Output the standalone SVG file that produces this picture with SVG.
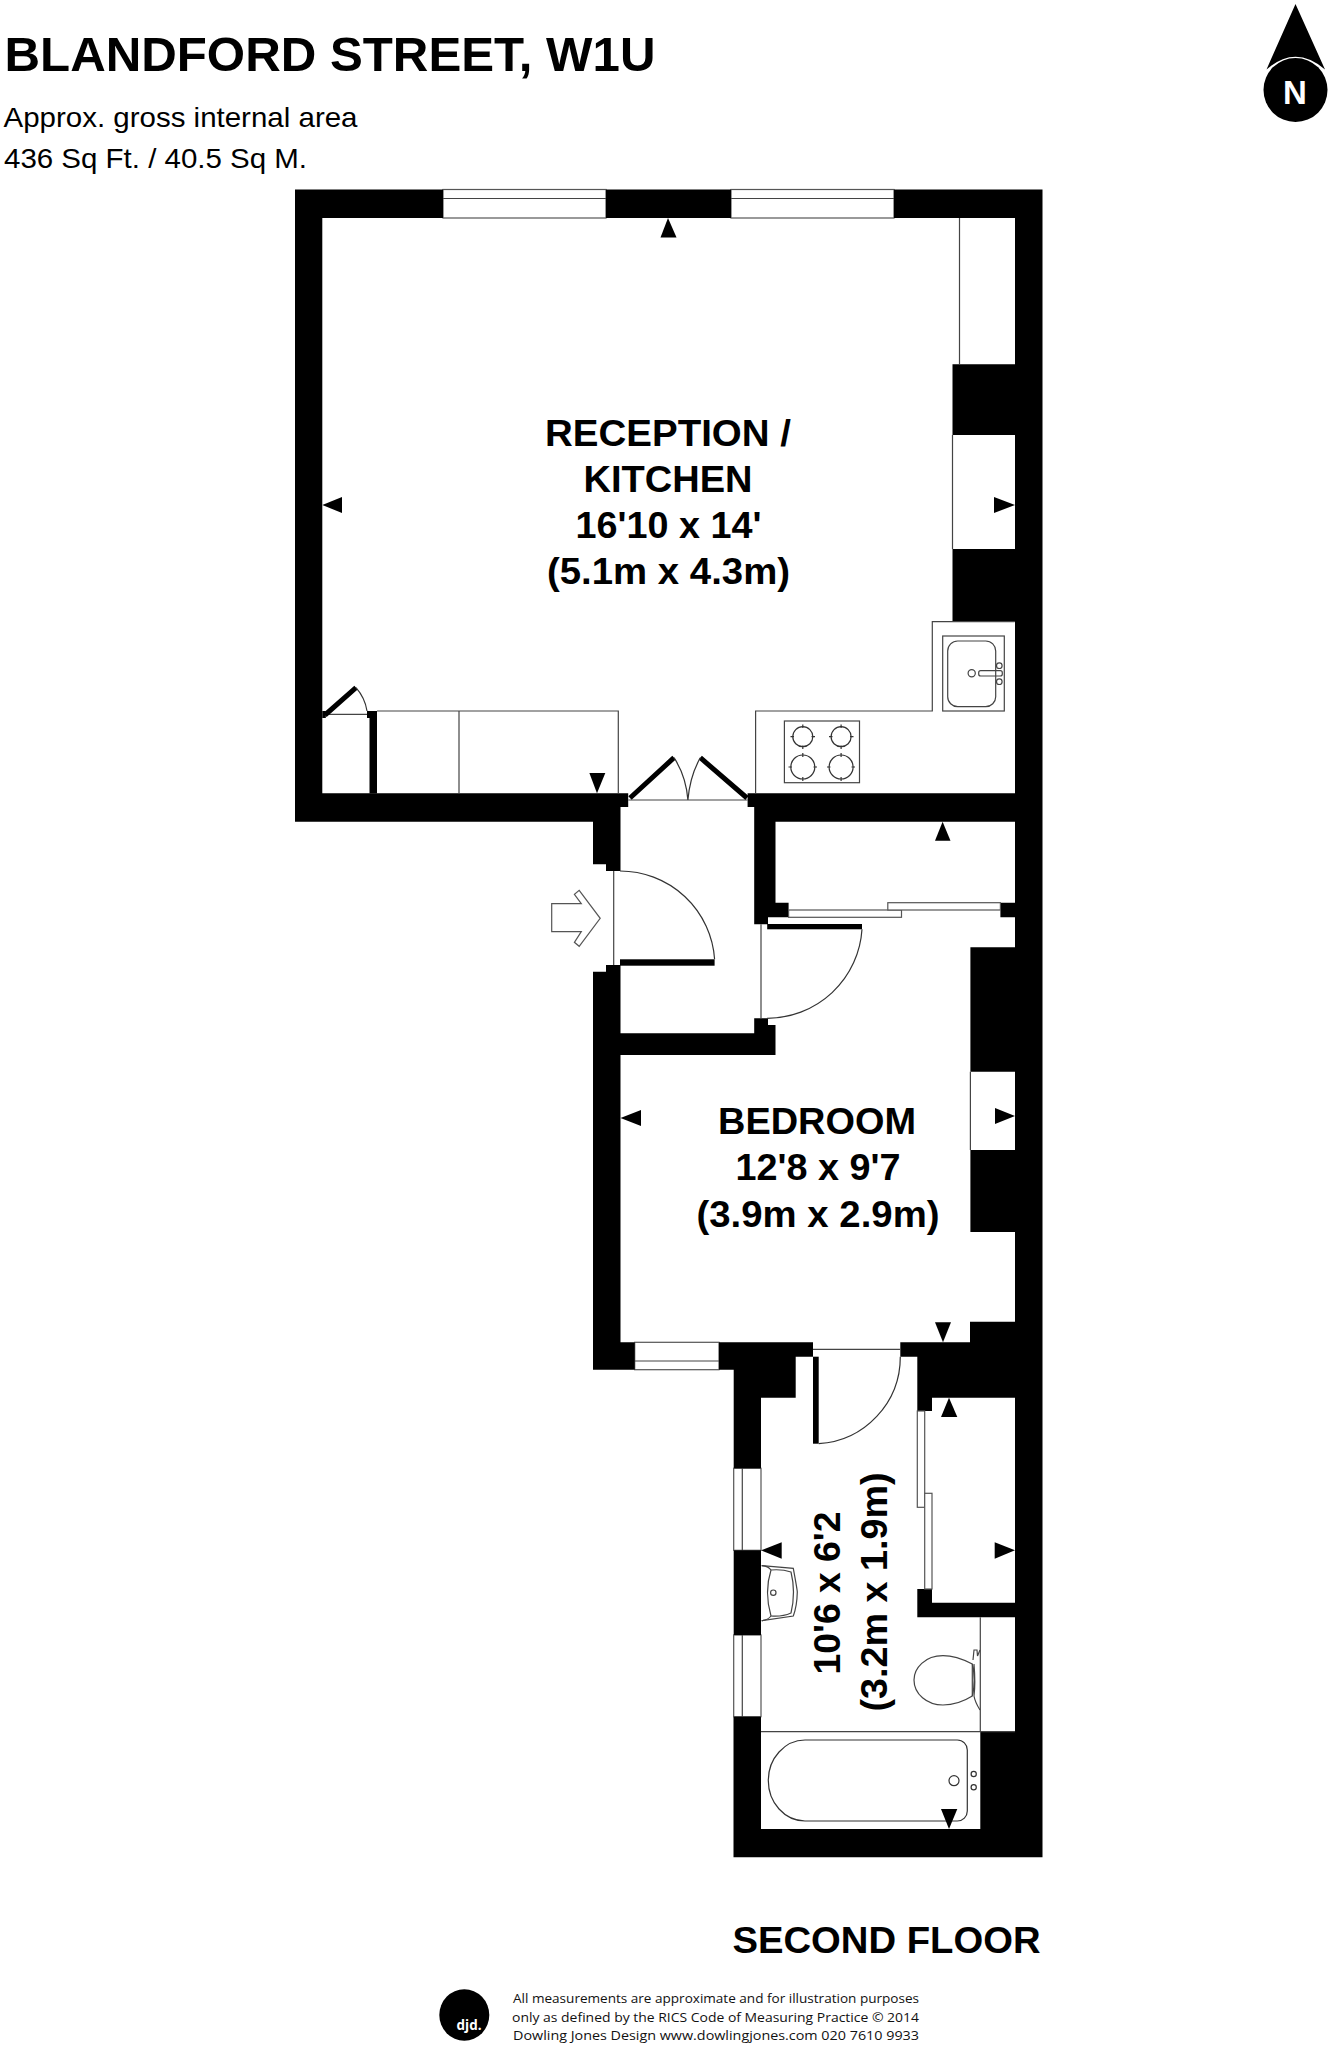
<svg xmlns="http://www.w3.org/2000/svg" width="1334" height="2048" viewBox="0 0 1334 2048">
<style>
.w{fill:#000;stroke:none}
.l{fill:#fff;stroke:#555;stroke-width:1.2}
.n{fill:none;stroke:#444;stroke-width:1.2}
.f{fill:none;stroke:#333;stroke-width:1.2}
.t{font-family:"Liberation Sans",Arial,sans-serif;fill:#000}
.b{font-weight:bold}
.r{font-size:37px;font-weight:bold;text-anchor:middle}
.s{font-family:"Open Sans","Noto Sans",sans-serif;font-size:13.5px;fill:#111}
</style>
<rect width="1334" height="2048" fill="#fff"/>
<g id="header">
<text class="t b" x="4.5" y="70.5" font-size="48" textLength="651" lengthAdjust="spacingAndGlyphs">BLANDFORD STREET, W1U</text>
<text class="t" x="3.5" y="126.5" font-size="28" textLength="354" lengthAdjust="spacingAndGlyphs">Approx. gross internal area</text>
<text class="t" x="4" y="168" font-size="28" textLength="303" lengthAdjust="spacingAndGlyphs">436 Sq Ft. / 40.5 Sq M.</text>
</g>
<g id="north">
<path class="w" d="M1295.5 4L1266.5 69.5Q1295.5 44 1325 69.5Z"/>
<circle class="w" cx="1295.5" cy="90" r="32"/>
<text x="1295" y="103.5" font-family="Liberation Sans,sans-serif" font-weight="bold" font-size="33" fill="#fff" text-anchor="middle">N</text>
</g>
<g id="windows">
<rect class="l" x="443" y="189.5" width="163" height="28.5"/><path class="n" d="M443 198.5H606"/>
<rect class="l" x="731" y="189.5" width="163" height="28.5"/><path class="n" d="M731 198.5H894"/>
<rect class="l" x="634.7" y="1342.3" width="84.3" height="27.4"/><path class="n" d="M634.7 1361H719"/>
<rect class="l" x="733.7" y="1468.3" width="27.3" height="82"/><path class="n" d="M742.3 1468.3V1550.3"/>
<rect class="l" x="733.7" y="1635" width="27.3" height="81.7"/><path class="n" d="M742.3 1635V1716.7"/>
</g>
<g id="walls">
<path class="w" d="M295 189.5H443V218H322.3V793.3H628.2V807H620.5V871H606V864.3H593V821.7H295Z"/>
<rect class="w" x="606" y="189.5" width="125" height="28.5"/>
<path class="w" d="M894 189.5H1042.5V1857.3H733.5V1716.7H761V1829H980.3V1731.7H1015V1321.7H970V1342.3H900.3V1356.7H917.3V1411H932V1397.7H1015V1602.7H932V1589H917.3V1617.3H1015V1232H970.4V1150H1015V1071.7H970.4V947.3H1015V917.3H1000.4V902.7H1015V821.7H775.5V902.7H788.6V917.3H768V924.3H754.2V807H747.6V793.3H1015V621.7H952.5V549H1015V435H952.5V364.3H1015V218H894Z"/>
<path class="w" d="M606 965H620.5V1033.3H754.2V1018.3H768V1025H775.5V1055H620.5V1342.3H634.7V1369.7H593V971.7H606Z"/>
<path class="w" d="M719 1342.3H813V1356.7H795.7V1397.7H761V1468.3H733.7V1369.7H719Z"/>
<rect class="w" x="733.7" y="1550.3" width="27.3" height="84.7"/>
<rect class="w" x="369.5" y="711" width="7.5" height="82.5"/>
<rect class="w" x="367" y="711" width="10" height="7"/>
<rect class="w" x="322.3" y="711" width="3.5" height="7"/>
</g>
<g id="fittings">
<path class="n" d="M959.5 218V364.3M952.5 435V549"/>
<path class="n" d="M970.4 1071.7V1150"/>
<path class="n" d="M377 711H618.3V793.3M459 711V793.3"/>
<path class="n" d="M326 714.3H367"/>
<path class="n" d="M628.2 800H747.6M613.7 871V965M761 924.3V1018.3M813 1349.3H900.3"/>
<path class="n" d="M755.6 793.3V711H932.3V621.7H1014.7"/>
<path class="n" d="M980.3 1617.3V1731.7M761 1731.7H1015"/>
</g>
<g id="doors">
<path class="f" d="M620 871A94.6 94.6 0 0 1 714.6 959.3"/>
<rect class="w" x="620" y="959.3" width="94.6" height="6.4"/>
<rect class="w" x="767.2" y="924" width="94.8" height="5.3"/>
<path class="f" d="M862 929.3A95 95 0 0 1 767 1018.3"/>
<rect class="w" x="813" y="1356.7" width="5.7" height="87"/>
<path class="f" d="M900.3 1356.7A87 87 0 0 1 818.7 1443.7"/>
<path d="M325 715L356 687.7M630 798L674 757.7M747 798L700.3 757.7" stroke="#000" stroke-width="5" fill="none"/>
<path class="f" d="M356 687.7Q365 698 367 711M674 757.7Q686 776 687.9 800M700.3 757.7Q690 776 687.9 800"/>
<rect class="l" x="788.6" y="910" width="112.9" height="7.3"/>
<rect class="l" x="887.8" y="902.7" width="112.6" height="7.3"/>
<rect class="l" x="917.3" y="1411" width="7.4" height="96.3"/>
<rect class="l" x="924.7" y="1493.3" width="7.3" height="95.7"/>
</g>
<g id="entry-arrow">
<path class="l" d="M551.7 903.7H581.3L574.4 894.3L579.2 890.3L600.2 918.3L579.2 946.3L574.4 942.3L581.3 931.7H551.7Z"/>
</g>
<g id="hob">
<rect class="n" x="784.4" y="721" width="75.1" height="61.7"/>
<circle class="f" cx="802.8" cy="736.7" r="10"/><circle class="f" cx="841.1" cy="736.7" r="10"/>
<circle class="f" cx="802.8" cy="767" r="12"/><circle class="f" cx="841.1" cy="767" r="12"/>
<path class="f" d="M802.8 724.5V728M802.8 745.5V749M841.1 724.5V728M841.1 745.5V749M790.5 736.7H794M811.5 736.7H815M829 736.7H832.5M850 736.7H853.5M802.8 753V757M802.8 777V781M841.1 753V757M841.1 777V781M788.5 767H792M813.5 767H817M827 767H830.5M851.5 767H855"/>
</g>
<g id="kitchen-sink">
<rect class="n" x="942.7" y="636" width="61.6" height="75"/>
<rect class="n" x="947.7" y="641" width="48" height="65.7" rx="10"/>
<circle class="n" cx="971.7" cy="673.3" r="3.6"/>
<rect class="n" x="978.7" y="670.7" width="23.6" height="5.3" rx="2"/>
<circle class="n" cx="999.3" cy="665.7" r="2.8"/><circle class="n" cx="999.3" cy="681.7" r="2.8"/>
</g>
<g id="basin">
<path class="n" d="M761.7 1565.7L793.3 1568.3Q797.3 1590 797.3 1592Q797 1606 793.3 1616L761.7 1620.7"/>
<path class="n" d="M771 1570Q764 1592 771 1616Q782 1617 791 1613Q796 1592 791 1572Q782 1569 771 1570Z"/>
<path class="n" d="M761.7 1565.7Q768 1566 771 1570M761.7 1620.7Q768 1620 771 1616"/>
<circle class="n" cx="773.3" cy="1592.7" r="2.7"/>
</g>
<g id="wc">
<path class="n" d="M972.3 1664Q956 1655.7 943 1655.7C925 1655.7 914 1668 914 1680C914 1694 927 1705 943 1705Q958 1705 972.3 1696Z"/>
<path class="n" d="M972.3 1664Q976 1680 972.3 1696M974 1664C975 1676 975 1688 974 1696Q975 1702 980 1710M973 1660L974 1650H977L977.5 1656L980 1650"/>
</g>
<g id="bath">
<path class="f" d="M805 1740H957.3A10 10 0 0 1 967.3 1750V1811A10 10 0 0 1 957.3 1821H805A37 40.5 0 0 1 768.3 1780.5A37 40.5 0 0 1 805 1740Z"/>
<circle class="f" cx="954" cy="1780.7" r="5"/>
<circle class="f" cx="973.7" cy="1774" r="2.6"/><circle class="f" cx="973.7" cy="1787.3" r="2.6"/>
</g>
<g id="dimension-markers" class="w">
<path d="M668 218L660.5 237.5H676.5Z"/>
<path d="M322.3 505L342 497V513Z"/>
<path d="M1015 505L994 497V513Z"/>
<path d="M597 793.3L589.4 773H605.3Z"/>
<path d="M942.6 821.7L935 840.7H950.5Z"/>
<path d="M620.5 1118L641 1110V1126Z"/>
<path d="M1015 1116L995 1108V1124Z"/>
<path d="M943 1342.3L935 1322.3H951Z"/>
<path d="M949 1397.7L941 1417H957.3Z"/>
<path d="M1015 1550.3L994.7 1542.3V1558.7Z"/>
<path d="M761 1550.3L781.7 1542.3V1558.7Z"/>
<path d="M949 1829L941 1809H957.3Z"/>
</g>
<g id="labels">
<text class="t r" x="668" y="445.5" textLength="246" lengthAdjust="spacingAndGlyphs">RECEPTION /</text>
<text class="t r" x="668" y="492" textLength="169" lengthAdjust="spacingAndGlyphs">KITCHEN</text>
<text class="t r" x="668.5" y="538" textLength="186" lengthAdjust="spacingAndGlyphs">16'10 x 14'</text>
<text class="t r" x="668.5" y="584" textLength="243" lengthAdjust="spacingAndGlyphs">(5.1m x 4.3m)</text>
<text class="t r" x="817" y="1134" textLength="198" lengthAdjust="spacingAndGlyphs">BEDROOM</text>
<text class="t r" x="818" y="1180" textLength="165" lengthAdjust="spacingAndGlyphs">12'8 x 9'7</text>
<text class="t r" x="818" y="1227" textLength="243" lengthAdjust="spacingAndGlyphs">(3.9m x 2.9m)</text>
<text class="t r" transform="translate(840 1593) rotate(-90)" textLength="163" lengthAdjust="spacingAndGlyphs">10'6 x 6'2</text>
<text class="t r" transform="translate(886.7 1592) rotate(-90)" textLength="239" lengthAdjust="spacingAndGlyphs">(3.2m x 1.9m)</text>
<text class="t r" x="886.5" y="1953.3" textLength="308" lengthAdjust="spacingAndGlyphs">SECOND FLOOR</text>
</g>
<g id="footer">
<ellipse class="w" cx="464.3" cy="2015" rx="25" ry="25.7"/>
<text x="469" y="2030" font-family="Open Sans,sans-serif" font-weight="bold" font-size="15" fill="#fff" text-anchor="middle" textLength="25" lengthAdjust="spacingAndGlyphs">djd.</text>
<text class="s" x="513" y="2003.3" textLength="406" lengthAdjust="spacingAndGlyphs">All measurements are approximate and for illustration purposes</text>
<text class="s" x="512" y="2021.7" textLength="407" lengthAdjust="spacingAndGlyphs">only as defined by the RICS Code of Measuring Practice © 2014</text>
<text class="s" x="513" y="2040" textLength="406" lengthAdjust="spacingAndGlyphs">Dowling Jones Design www.dowlingjones.com 020 7610 9933</text>
</g>
</svg>
